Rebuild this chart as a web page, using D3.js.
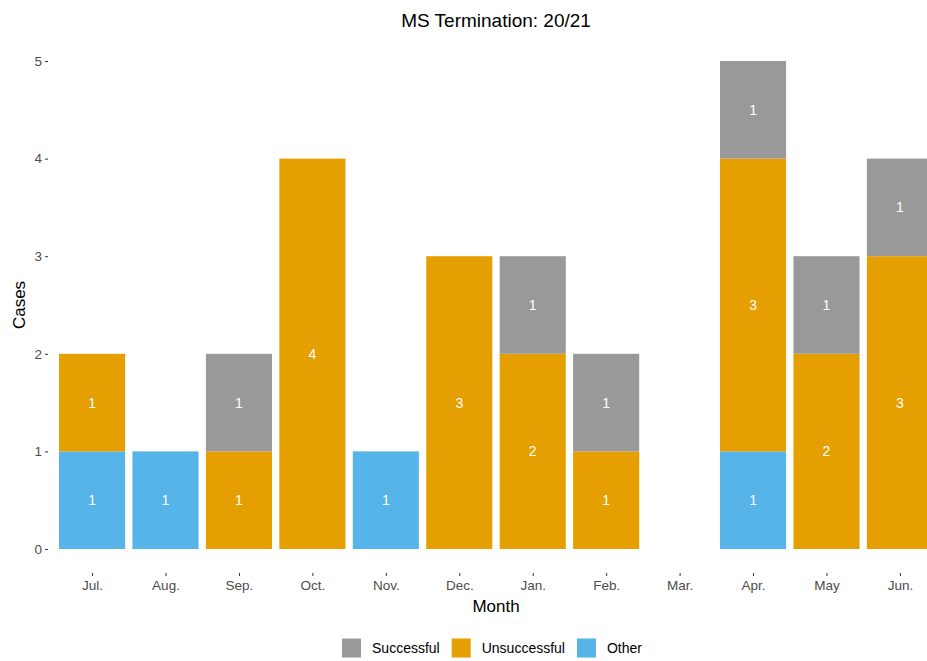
<!DOCTYPE html>
<meta charset="utf-8">
<script src="https://d3js.org/d3.v7.min.js"></script>
<style>
body { margin: 0; background: #fff; font-family: "Liberation Sans", Arial, sans-serif; }
.axis path { display: none; }
.axis line { stroke: #333; }
.axis text { fill: #4d4d4d; font-size: 13.5px; font-family: "Liberation Sans", Arial, sans-serif; }
</style>
<body>
<script>
// data
var months = ["Jul.", "Aug.", "Sep.", "Oct.", "Nov.", "Dec.", "Jan.", "Feb.", "Mar.", "Apr.", "May", "Jun."];
var other        = [1, 1, 0, 0, 1, 0, 0, 0, 0, 1, 0, 0];
var unsuccessful = [1, 0, 1, 4, 0, 3, 2, 1, 0, 3, 2, 3];
var successful   = [0, 0, 1, 0, 0, 0, 1, 1, 0, 1, 1, 1];
var yTicks = [0, 1, 2, 3, 4, 5];

var groups = ["Other", "Unsuccessful", "Successful"];   // stacking order, bottom up
var legendOrder = ["Successful", "Unsuccessful", "Other"];
var color = d3.scaleOrdinal()
    .domain(["Successful", "Unsuccessful", "Other"])
    .range(["#999999", "#E69F00", "#56B4E9"]);

var table = months.map(function(m, i) {
  return { month: m, Other: other[i], Unsuccessful: unsuccessful[i], Successful: successful[i] };
});

var width = 927, height = 661;
var svg = d3.select("body").append("svg")
    .attr("width", width)
    .attr("height", height);

// panel runs off the right edge like the original
var panel = { left: 48, right: 944, top: 37, bottom: 573 };

var xPos = d3.scaleLinear().domain([0.4, 12.6]).range([panel.left, panel.right]);
var step = xPos(2) - xPos(1);
var x = function(m) { return xPos(months.indexOf(m) + 1); };
var y = d3.scaleLinear().domain([0, 5]).range([549, 61]);

var stacked = d3.stack().keys(groups)(table);

var layer = svg.selectAll(".layer")
    .data(stacked)
    .enter().append("g")
    .attr("class", "layer")
    .attr("fill", function(d) { return color(d.key); });

layer.selectAll("rect")
    .data(function(d) { return d; })
    .enter()
    .filter(function(d) { return d[1] - d[0] > 0; })
    .append("rect")
    .attr("x", function(d) { return x(d.data.month) - step * 0.45; })
    .attr("width", step * 0.9)
    .attr("y", function(d) { return y(d[1]); })
    .attr("height", function(d) { return y(d[0]) - y(d[1]); });

layer.selectAll("text")
    .data(function(d) { return d; })
    .enter()
    .filter(function(d) { return d[1] - d[0] > 0; })
    .append("text")
    .attr("x", function(d) { return x(d.data.month); })
    .attr("y", function(d) { return y((d[0] + d[1]) / 2); })
    .attr("dy", "0.35em")
    .attr("text-anchor", "middle")
    .attr("fill", "white")
    .style("font-size", "14px")
    .text(function(d) { return d[1] - d[0]; });

// y axis
svg.append("g")
    .attr("class", "axis")
    .attr("transform", "translate(" + panel.left + ",0)")
    .call(d3.axisLeft(y).tickValues(yTicks).tickSize(3).tickPadding(3).tickFormat(d3.format("d")));

// x axis
var xAxisScale = d3.scalePoint().domain(months)
    .range([xPos(1), xPos(12)]);
svg.append("g")
    .attr("class", "axis")
    .attr("transform", "translate(0," + panel.bottom + ")")
    .call(d3.axisBottom(xAxisScale).tickSize(3).tickPadding(4));

// titles
svg.append("text")
    .attr("x", (panel.left + panel.right) / 2)
    .attr("y", 27)
    .attr("text-anchor", "middle")
    .style("font-size", "19px")
    .text("MS Termination: 20/21");

svg.append("text")
    .attr("x", (panel.left + panel.right) / 2)
    .attr("y", 612)
    .attr("text-anchor", "middle")
    .style("font-size", "17px")
    .text("Month");

svg.append("text")
    .attr("transform", "translate(25," + (panel.top + panel.bottom) / 2 + ") rotate(-90)")
    .attr("text-anchor", "middle")
    .style("font-size", "17px")
    .text("Cases");

// legend
var legend = svg.append("g");
var lx = 0;
legendOrder.forEach(function(k) {
  var g = legend.append("g").attr("transform", "translate(" + lx + ",0)");
  g.append("rect").attr("width", 19).attr("height", 19).attr("y", -9.5).attr("fill", color(k));
  var t = g.append("text").attr("x", 30).attr("dy", "0.35em")
      .style("font-size", "14px").text(k);
  lx += 30 + t.node().getComputedTextLength() + 12;
});
var lw = lx - 12;
legend.attr("transform", "translate(" + (492 - lw / 2) + ",648)");
</script>
</body>
